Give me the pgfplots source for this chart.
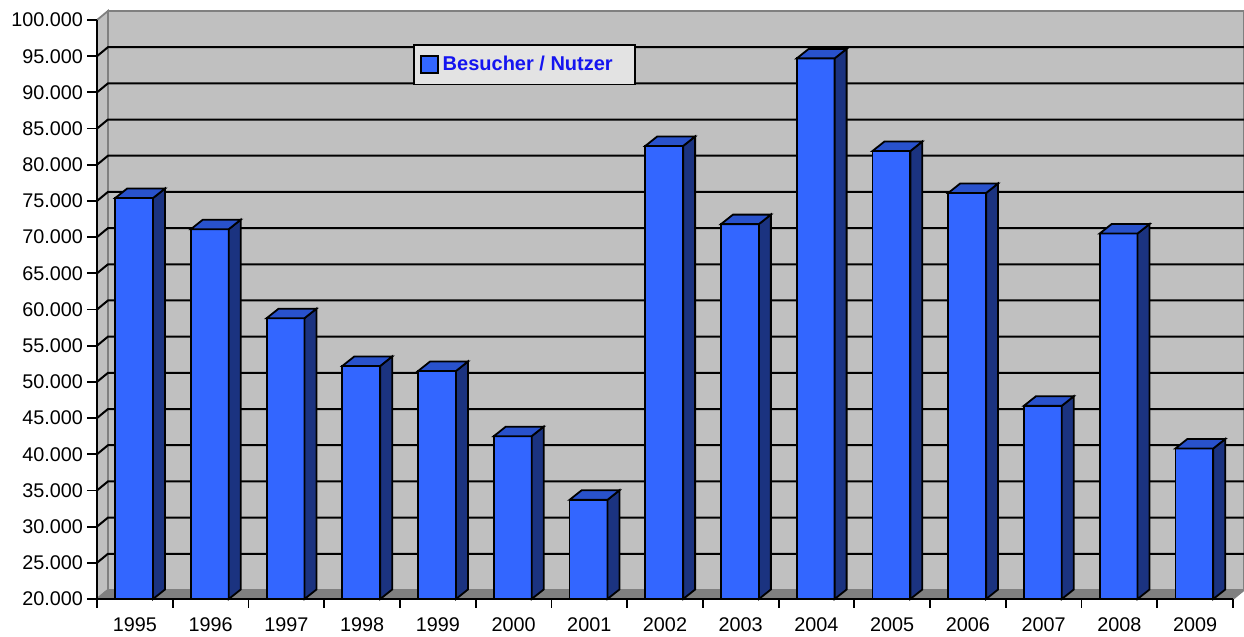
\documentclass[border=0pt]{standalone}
\usepackage{pgfplots}
\pgfplotsset{compat=1.18}
\usepackage{pgfplotstable}
\usepackage{fontspec}
\setmainfont{Liberation Sans}
\definecolor{barfront}{RGB}{51,102,255}
\definecolor{barside}{RGB}{27,51,128}
\definecolor{bartop}{RGB}{41,82,204}
\definecolor{wallgrey}{RGB}{192,192,192}
\definecolor{wallborder}{RGB}{128,128,128}
\definecolor{floorgrey}{RGB}{128,128,128}
\definecolor{legendfill}{RGB}{227,227,227}
\definecolor{legendblue}{RGB}{20,20,240}

\pgfplotstableread{
x y
0 75400
1 71100
2 58800
3 52200
4 51500
5 42500
6 33700
7 82600
8 71800
9 94700
10 81900
11 76100
12 46700
13 70500
14 40800
}\visits

\begin{document}
\begin{tikzpicture}
\useasboundingbox (-48.5pt,-19pt) rectangle (573.5pt,299.5pt);
\begin{axis}[
  at={(0pt,0pt)}, anchor=south west,
  scale only axis, width=568pt, height=289.5pt,
  xmin=-0.5, xmax=14.5, ymin=20000, ymax=100000,
  clip=false, axis on top,
  axis x line*=bottom, axis y line*=left,
  axis line style={black, line width=0.9pt, -},
  xtick={0,...,14},
  xticklabels={1995,1996,1997,1998,1999,2000,2001,2002,2003,2004,2005,2006,2007,2008,2009},
  major x tick style={draw=none},
  minor xtick={-0.5,0.5,...,14.5},
  ytick={20000,25000,30000,35000,40000,45000,50000,55000,60000,65000,70000,75000,80000,85000,90000,95000,100000},
  tick align=outside,
  tick style={black, line width=0.9pt},
  major tick length=5pt, minor tick length=4.5pt,
  tick label style={font=\fontsize{9.9}{11}\selectfont},
  xticklabel style={yshift=-1pt},
  yticklabel style={xshift=1.5pt},
  /pgf/number format/assume math mode=true,
  scaled y ticks=false,
  yticklabel style={/pgf/number format/.cd, fixed, precision=0, 1000 sep={.}},
  legend image code/.code={\draw[fill=barfront,draw=black,line width=0.9pt] (0pt,-4.25pt) rectangle (8.5pt,4.25pt);},
  legend style={at={(0.2782,0.9585)}, anchor=north west, fill=legendfill, draw=black,
    line width=0.9pt, font=\fontsize{10}{12}\selectfont\bfseries, text=legendblue,
    inner xsep=3pt, inner ysep=3.5pt},
]
\addlegendimage{}
\addlegendentry{Besucher / Nutzer\hspace*{6pt}\mbox{}}

% floor, left wall, back wall
\addplot[fill=wallgrey, draw=wallborder, line width=0.9pt, forget plot]
  coordinates {(-0.355,21250) (14.645,21250) (14.645,101250) (-0.355,101250)} -- cycle;
\addplot[fill=wallgrey, draw=wallborder, line width=0.9pt, forget plot]
  coordinates {(-0.5,20000) (-0.355,21250) (-0.355,101250) (-0.5,100000)} -- cycle;
\addplot[fill=floorgrey, draw=wallborder, line width=0.9pt, forget plot]
  coordinates {(-0.5,20000) (14.5,20000) (14.645,21250) (-0.355,21250)} -- cycle;

% grid lines on the walls
\pgfplotsforeachungrouped \k in {5,...,19}{%
  \edef\g{\the\numexpr\k*5000\relax}%
  \edef\gb{\the\numexpr\k*5000+1250\relax}%
  \edef\cmd{\noexpand\addplot[black, line width=1pt, forget plot]
    coordinates {(-0.5,\g) (-0.355,\gb) (14.645,\gb)};}%
  \cmd
}

% 3D bars
\pgfplotsforeachungrouped \i in {0,...,14}{%
  \pgfplotstablegetelem{\i}{y}\of\visits
  \edef\v{\pgfplotsretval}%
  \edef\vt{\the\numexpr\v+1313\relax}%
  \pgfmathsetmacro\xa{\i-0.26}%
  \pgfmathsetmacro\xb{\i+0.24}%
  \pgfmathsetmacro\xc{\i+0.24+0.158}%
  \pgfmathsetmacro\xd{\i-0.26+0.158}%
  \edef\cmd{%
    \noexpand\addplot[fill=barfront, draw=black, line width=0.9pt, forget plot]
      coordinates {(\xa,20000) (\xb,20000) (\xb,\v) (\xa,\v)} -- cycle;
    \noexpand\addplot[fill=barside, draw=black, line width=0.9pt, forget plot]
      coordinates {(\xb,20000) (\xc,21313) (\xc,\vt) (\xb,\v)} -- cycle;
    \noexpand\addplot[fill=bartop, draw=black, line width=0.9pt, forget plot]
      coordinates {(\xa,\v) (\xb,\v) (\xc,\vt) (\xd,\vt)} -- cycle;
  }%
  \cmd
}
\end{axis}
\end{tikzpicture}
\end{document}
